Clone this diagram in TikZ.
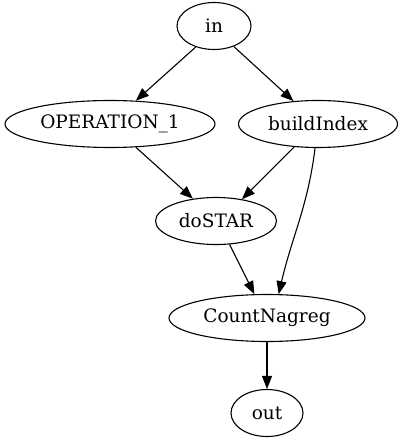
\documentclass[tikz,border=0pt]{standalone}
\usepackage{fontspec}
\setmainfont{DejaVu Serif}
\usetikzlibrary{shapes.geometric,arrows.meta}

\begin{document}
\begin{tikzpicture}[x=1pt,y=-1pt,
  vertex/.style={draw,ellipse,line width=1.1pt,inner sep=0pt,minimum height=47pt,font=\fontsize{18.5}{22}\selectfont},
  edge/.style={draw,line width=1.1pt,-{Triangle[length=13pt,width=10pt]}}]
            \useasboundingbox (0,0) rectangle (403,443);
            \node[vertex,minimum width=74pt] (in) at (214,26) {in};
            \node[vertex,minimum width=210pt] (op) at (110,124) {OPERATION\_1};
            \node[vertex,minimum width=159pt] (bi) at (318,124) {buildIndex};
            \node[vertex,minimum width=121pt] (ds) at (216,221) {doSTAR};
            \node[vertex,minimum width=196pt] (cn) at (267,318) {CountNagreg};
            \node[vertex,minimum width=72pt] (out) at (267,413) {out};
            \draw[edge](in.229)--(op.42);
            \draw[edge](in.-46)--(bi.137);
            \draw[edge](op.-42)--(ds.136);
            \draw[edge](bi.224)--(ds.40);
            \draw[edge](bi.-97) to[out=-97,in=77] (cn.64);
            \draw[edge](ds.-60)--(cn.118);
            \draw[edge](cn.south)--(out.north);
            \end{tikzpicture}
\end{document}
